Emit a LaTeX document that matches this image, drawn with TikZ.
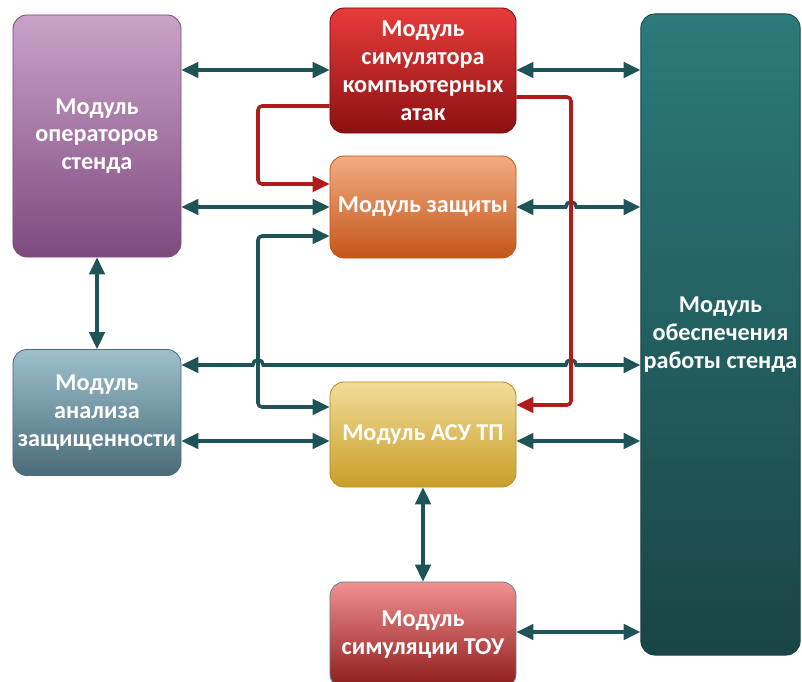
\documentclass[tikz,border=0pt]{standalone}
\usepackage{fontspec}
\setmainfont{Carlito}
\usetikzlibrary{arrows.meta}
\definecolor{linkcol}{HTML}{1E5457}
\definecolor{redcol}{HTML}{B01B1B}
\definecolor{opstop}{HTML}{C9A3C9}
\definecolor{opsbot}{HTML}{7E4A7E}
\definecolor{atktop}{HTML}{E83B3B}
\definecolor{atkbot}{HTML}{8C1111}
\definecolor{zastop}{HTML}{F2AC82}
\definecolor{zasbot}{HTML}{C4561A}
\definecolor{suptop}{HTML}{2C7A7B}
\definecolor{supbot}{HTML}{1A4445}
\definecolor{anatop}{HTML}{9DC0CC}
\definecolor{anabot}{HTML}{4A6C7A}
\definecolor{asutop}{HTML}{F2DC9A}
\definecolor{asubot}{HTML}{C89E28}
\definecolor{toutop}{HTML}{F29090}
\definecolor{toubot}{HTML}{8C1A1A}
\tikzstyle{modbox}=[rectangle,rounded corners=0.35cm,draw,line width=0.6pt,inner sep=2pt,align=center,text=white,font=\bfseries\fontsize{17.2}{19.8}\selectfont]
\tikzstyle{link}=[line width=2.5pt,draw=linkcol,rounded corners=0.1cm,>={Triangle[length=12pt,width=11pt]}]
\tikzstyle{attack}=[link,draw=redcol]

\begin{document}
\begin{tikzpicture}[x=0.025cm,y=-0.025cm]
      \useasboundingbox (0,0) rectangle (802,682);
      \node [modbox,minimum width=4.2cm,minimum height=6.05cm,top color=opstop,bottom color=opsbot,draw=opsbot] (ops) at (97,136) {Модуль\\операторов\\стенда};
      \node [modbox,minimum width=4.65cm,minimum height=3.125cm,top color=atktop,bottom color=atkbot,draw=atkbot!80!black] (atk) at (423,70.5) {Модуль\\симулятора\\компьютерных\\атак};
      \node [modbox,minimum width=4.65cm,minimum height=2.55cm,top color=zastop,bottom color=zasbot,draw=zasbot] (zas) at (423,207) {Модуль защиты};
      \node [modbox,minimum width=3.975cm,minimum height=16.025cm,top color=suptop,bottom color=supbot,draw=supbot] (sup) at (720.5,334.5) {Модуль\\обеспечения\\работы стенда};
      \node [modbox,minimum width=4.2cm,minimum height=3.15cm,top color=anatop,bottom color=anabot,draw=anabot] (ana) at (97,412.5) {Модуль\\анализа\\защищенности};
      \node [modbox,minimum width=4.65cm,minimum height=2.625cm,top color=asutop,bottom color=asubot,draw=asubot!90!black] (asu) at (423,434.5) {Модуль АСУ ТП};
      \node [modbox,minimum width=4.65cm,minimum height=2.65cm,top color=toutop,bottom color=toubot,draw=linkcol!70] (tou) at (423,635) {Модуль\\симуляции ТОУ};

      \coordinate (r1) at (0,70);
      \coordinate (r2) at (0,207);
      \coordinate (r3) at (0,365);
      \coordinate (r4) at (0,441);
      \coordinate (r5) at (0,632);
      \coordinate (tx) at (258,0);
      \coordinate (rx) at (571,0);
      \coordinate (zasin) at ([yshift=-0.725cm]zas.west);
      \coordinate (asuin) at ([yshift=0.6875cm]asu.west);
      \coordinate (atkout) at ([yshift=-0.8875cm]atk.west);
      \coordinate (zasred) at ([yshift=0.575cm]zas.west);
      \coordinate (atkred) at ([yshift=-0.6625cm]atk.east);
      \coordinate (asured) at ([yshift=0.7375cm]asu.east);

      \draw [link,<->] (ops.east |- r1) -- (atk.west |- r1);
      \draw [link,<->] (atk.east |- r1) -- (sup.west |- r1);
      \draw [link,<->] (ops.east |- r2) -- (zas.west |- r2);
      \draw [link,<->,rounded corners=0pt] (zas.east |- r2) -- ([xshift=-0.13cm]rx |- r2) arc (180:0:0.13cm) -- (sup.west |- r2);
      \draw [link,<->] (ops.south) -- (ana.north);
      \draw [link,<->,rounded corners=0pt] (ana.east |- r3) -- ([xshift=-0.13cm]tx |- r3) arc (180:0:0.13cm) -- ([xshift=-0.13cm]rx |- r3) arc (180:0:0.13cm) -- (sup.west |- r3);
      \draw [link,<->] (ana.east |- r4) -- (asu.west |- r4);
      \draw [link,<->] (asu.east |- r4) -- (sup.west |- r4);
      \draw [link,<->] (asu.south) -- (tou.north);
      \draw [link,<->] (tou.east |- r5) -- (sup.west |- r5);
      \draw [link,<->] (zasin) -| (tx |- asuin) -- (asuin);
      \draw [attack,->] (atkout) -| (tx |- zasred) -- (zasred);
      \draw [attack,->] (atkred) -| (rx |- asured) -- (asured);
\end{tikzpicture}
\end{document}
